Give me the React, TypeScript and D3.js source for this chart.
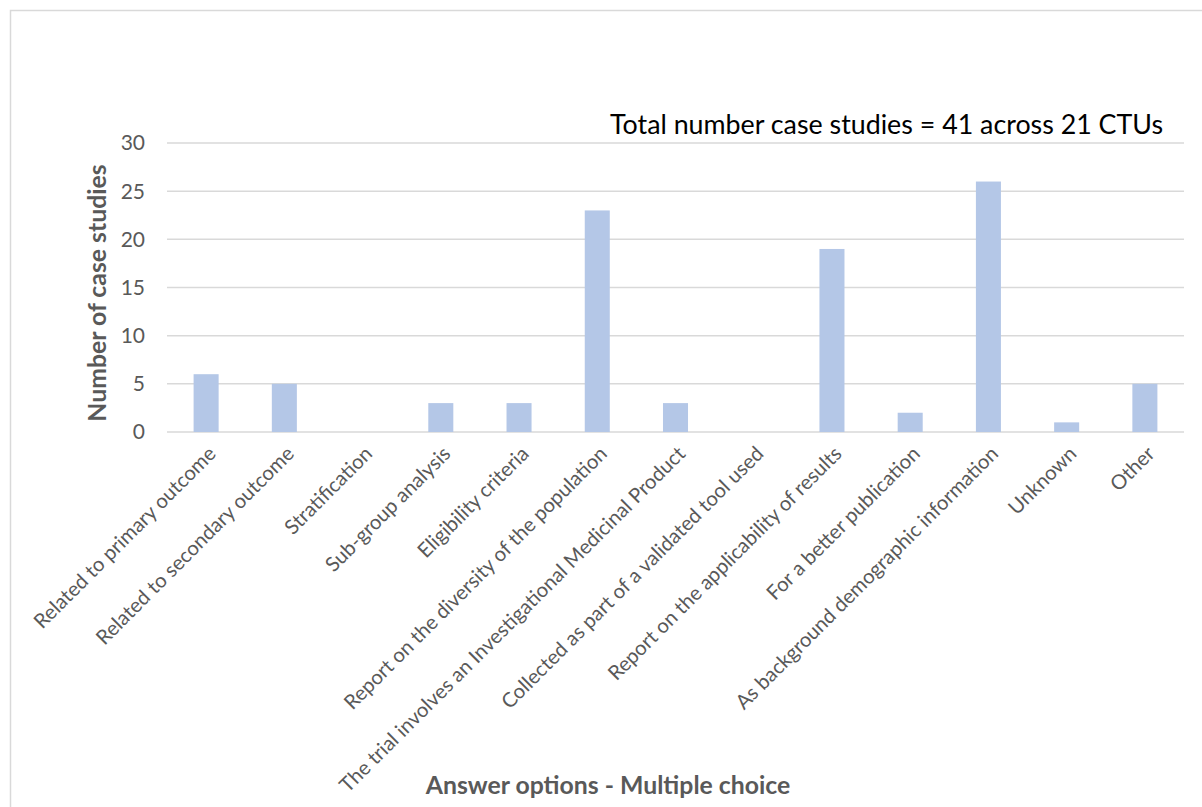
import React, { useEffect, useRef } from "react";
import * as d3 from "d3";

const categories = [
  "Related to primary outcome",
  "Related to secondary outcome",
  "Stratification",
  "Sub-group analysis",
  "Eligibility criteria",
  "Report on the diversity of the population",
  "The trial involves an Investigational Medicinal Product",
  "Collected as part of a validated tool used",
  "Report on the applicability of results",
  "For a better publication",
  "As background demographic information",
  "Unknown",
  "Other",
];
const counts = [6, 5, 0, 3, 3, 23, 3, 0, 19, 2, 26, 1, 5];
const yTicks = [0, 5, 10, 15, 20, 25, 30];

const W = 1202;
const H = 807;
const font = "Lato, 'Open Sans', sans-serif";

export default function App() {
  const ref = useRef<SVGSVGElement>(null);

  useEffect(() => {
    const svg = d3.select(ref.current);
    svg.selectAll("*").remove();

    const left = 167, right = 1184, top = 143, bottom = 432;

    const x = d3.scaleBand().domain(categories).range([left, right]).paddingInner(0.68).paddingOuter(0.34);
    const y = d3.scaleLinear().domain([0, 30]).range([bottom, top]);

    // chart frame
    svg.append("rect")
      .attr("x", 10.5).attr("y", 10.5)
      .attr("width", W).attr("height", H)
      .attr("fill", "#fff").attr("stroke", "#d9d9d9").attr("stroke-width", 1.5);

    // gridlines
    svg.append("g").selectAll("line").data(yTicks).enter().append("line")
      .attr("x1", left).attr("x2", right)
      .attr("y1", d => y(d)).attr("y2", d => y(d))
      .attr("stroke", "#d9d9d9").attr("stroke-width", 1.5);

    // y tick labels
    svg.append("g").selectAll("text").data(yTicks).enter().append("text")
      .attr("x", 145).attr("y", d => y(d))
      .attr("dy", "0.35em")
      .attr("text-anchor", "end")
      .attr("font-family", font).attr("font-size", 21)
      .attr("fill", "#595959")
      .text(d => d);

    // bars
    svg.append("g").selectAll("rect").data(counts).enter().append("rect")
      .attr("x", (d, i) => x(categories[i])!)
      .attr("width", x.bandwidth())
      .attr("y", d => y(d))
      .attr("height", d => bottom - y(d))
      .attr("fill", "#b4c7e7");

    // x labels
    svg.append("g").selectAll("text").data(categories).enter().append("text")
      .attr("transform", d => `translate(${x(d)! + x.bandwidth() / 2 + 6}, 450) rotate(-45)`)
      .attr("dy", "0.35em")
      .attr("text-anchor", "end")
      .attr("font-family", font).attr("font-size", 20.3)
      .attr("fill", "#595959")
      .text(d => d);

    // axis titles
    svg.append("text")
      .attr("transform", `translate(106, 293) rotate(-90)`)
      .attr("text-anchor", "middle")
      .attr("font-family", font).attr("font-size", 24.8).attr("font-weight", "bold")
      .attr("fill", "#595959")
      .text("Number of case studies");

    svg.append("text")
      .attr("x", 608).attr("y", 794)
      .attr("text-anchor", "middle")
      .attr("font-family", font).attr("font-size", 24.8).attr("font-weight", "bold")
      .attr("fill", "#595959")
      .text("Answer options - Multiple choice");

    svg.append("text")
      .attr("x", 1163).attr("y", 134)
      .attr("text-anchor", "end")
      .attr("font-family", font).attr("font-size", 26.8)
      .attr("fill", "#000")
      .text("Total number case studies = 41 across 21 CTUs");
  }, []);

  return (
    <svg ref={ref} width={W} height={H} style={{ position: "absolute", left: 0, top: 0, display: "block" }} />
  );
}
